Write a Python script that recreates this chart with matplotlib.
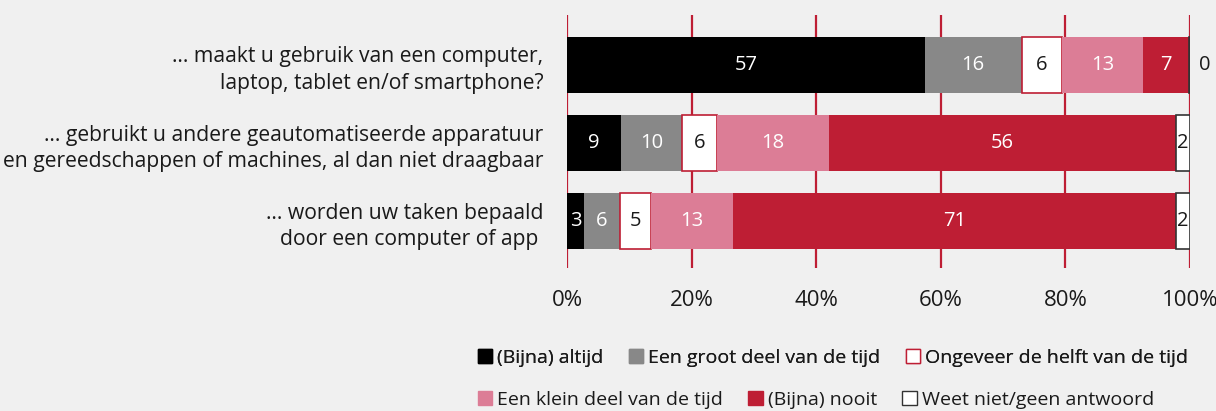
import matplotlib
matplotlib.use("Agg")
import matplotlib.pyplot as plt
from matplotlib.patches import Patch

# --- DATA ---
questions = [
    "… maakt u gebruik van een computer,\nlaptop, tablet en/of smartphone?",
    "… gebruikt u andere geautomatiseerde apparatuur\nen gereedschappen of machines, al dan niet draagbaar",
    "… worden uw taken bepaald\ndoor een computer of app ",
]
categories = [
    "(Bijna) altijd",
    "Een groot deel van de tijd",
    "Ongeveer de helft van de tijd",
    "Een klein deel van de tijd",
    "(Bijna) nooit",
    "Weet niet/geen antwoord",
]
altijd = [57.4, 8.7, 2.7]
groot_deel = [15.6, 9.8, 5.8]
helft = [6.5, 5.6, 5.0]
klein_deel = [13.0, 17.9, 13.2]
nooit = [7.3, 55.7, 71.0]
weet_niet = [0.2, 2.3, 2.3]
ticks = [0, 20, 40, 60, 80, 100]

# --- STYLE ---
RED = "#be1e34"
BG = "#f0f0f0"
TXT = "#1a1a1a"
face = ["#000000", "#888888", "#ffffff", "#dc7d96", RED, "#ffffff"]
edge = ["none", "none", RED, "none", "none", "#333333"]
lab_col = ["white", "white", TXT, "white", "white", TXT]

plt.rcParams["font.family"] = ["Open Sans", "DejaVu Sans"]

fig = plt.figure(figsize=(12.16, 4.11), dpi=100, facecolor=BG)
ax = fig.add_axes([567 / 1216, 143 / 411, 623 / 1216, 253 / 411])
ax.set_facecolor(BG)

series = [altijd, groot_deel, helft, klein_deel, nooit, weet_niet]
ypos = list(range(len(questions)))
left = [0.0] * len(questions)
for i, vals in enumerate(series):
    ax.barh(ypos, vals, left=left, height=0.72, color=face[i],
            edgecolor=edge[i], linewidth=1.2, zorder=3, label=categories[i])
    for j, v in enumerate(vals):
        txt = str(int(round(v)))
        if v < 1:
            ax.text(left[j] + v + 1.4, ypos[j], txt, ha="left", va="center",
                    fontsize=14.5, color=TXT, zorder=4)
        else:
            ax.text(left[j] + v / 2, ypos[j], txt, ha="center", va="center",
                    fontsize=14.5, color=lab_col[i], zorder=4)
    left = [l + v for l, v in zip(left, vals)]

ax.set_xlim(0, 100)
ax.set_ylim(2.6, -0.64)
ax.set_xticks(ticks)
ax.set_xticklabels([f"{t}%" for t in ticks], fontsize=16, color=TXT)
ax.set_yticks(ypos)
ax.set_yticklabels(questions, fontsize=15.2, color=TXT, linespacing=1.35)
ax.tick_params(axis="both", length=0)
ax.tick_params(axis="x", pad=16)
ax.tick_params(axis="y", pad=17)
ax.grid(axis="x", color=RED, linewidth=1.6, zorder=0)
ax.set_axisbelow(True)
for s in ax.spines.values():
    s.set_visible(False)

handles = [Patch(facecolor=face[i], edgecolor=(edge[i] if edge[i] != "none" else face[i]),
                 linewidth=1.0, label=categories[i]) for i in range(6)]
leg_kw = dict(ncol=3, frameon=False, fontsize=14, handlelength=0.75, handleheight=0.75,
              handletextpad=0.25, columnspacing=1.3, loc="center left", borderaxespad=0,
              labelcolor=TXT)
leg1 = fig.legend(handles=handles[:3], bbox_to_anchor=(470 / 1216, 1 - 358 / 411), **leg_kw)
fig.add_artist(leg1)
fig.legend(handles=handles[3:], bbox_to_anchor=(470 / 1216, 1 - 400 / 411), **leg_kw)

fig.savefig("out.png", dpi=100, facecolor=BG)
